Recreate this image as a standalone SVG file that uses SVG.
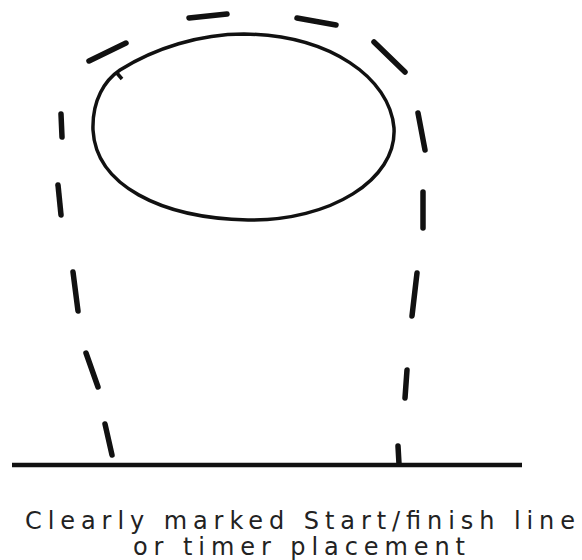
<svg xmlns="http://www.w3.org/2000/svg" width="582" height="560" viewBox="0 0 582 560">
<style>
.dash{stroke:#111;stroke-width:5.5;stroke-linecap:round;fill:none}
.track{stroke:#111;stroke-width:3.5;fill:none}
.base{stroke:#111;stroke-width:4.5}
.lbl{font-family:"DejaVu Sans","Liberation Sans",Arial,sans-serif;font-size:24px;fill:#222}
</style>
<rect width="582" height="560" fill="#fff"/>
<g id="circle">
<path class="track" d="M244,34 C330,35 390,78 394,128 C397,180 330,221 248,220 C160,218 96,185 93,130 C92,100 105,80 120,70 C155,48 200,34 244,34 Z"/>
<path class="track" d="M116,72 L122,79" stroke-width="3"/>
</g>
<g id="connectors">
<line class="dash" x1="89" y1="61" x2="126" y2="43"/>
<line class="dash" x1="189" y1="18" x2="227" y2="14"/>
<line class="dash" x1="297" y1="18" x2="336" y2="25"/>
<line class="dash" x1="374" y1="42" x2="405" y2="72"/>
<line class="dash" x1="418" y1="113" x2="425" y2="150"/>
<line class="dash" x1="423" y1="192" x2="423" y2="228"/>
<line class="dash" x1="417" y1="273" x2="412" y2="316"/>
<line class="dash" x1="407" y1="370" x2="405" y2="398"/>
<line class="dash" x1="398" y1="446" x2="399" y2="464"/>
<line class="dash" x1="61" y1="114" x2="62" y2="137"/>
<line class="dash" x1="58" y1="185" x2="61" y2="215"/>
<line class="dash" x1="73" y1="272" x2="78" y2="311"/>
<line class="dash" x1="86" y1="353" x2="98" y2="387"/>
<line class="dash" x1="105" y1="424" x2="112" y2="455"/>
</g>
<g id="start-line">
<line class="base" x1="12" y1="465" x2="522" y2="465"/>
</g>
<g id="label">
<text class="lbl" x="25" y="529" textLength="550" lengthAdjust="spacing">Clearly marked Start/finish line</text>
<text class="lbl" x="133" y="555" textLength="332" lengthAdjust="spacing">or timer placement</text>
</g>
</svg>
